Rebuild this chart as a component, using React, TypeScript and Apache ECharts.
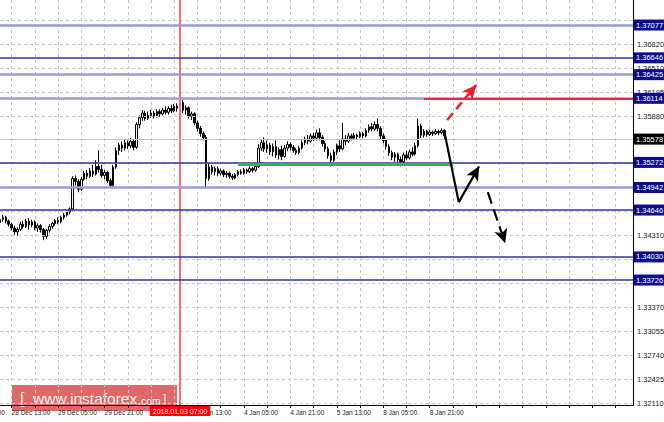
import React, { useEffect, useRef } from "react";
import * as echarts from "echarts";

// ---------- DATA ----------
// hourly candles [open, close, low, high]
const candles: number[][] = [
  [1.3448, 1.3452, 1.3445, 1.3455], [1.3452, 1.3455, 1.3449, 1.3458], [1.3455, 1.345, 1.3447, 1.3457],
  [1.345, 1.3446, 1.3443, 1.3452], [1.3446, 1.3441, 1.3438, 1.3448], [1.3441, 1.3436, 1.3432, 1.3444],
  [1.3436, 1.3439, 1.3431, 1.3442], [1.3439, 1.3446, 1.3437, 1.3449], [1.3446, 1.3443, 1.344, 1.345],
  [1.3443, 1.345, 1.3441, 1.3453], [1.345, 1.3445, 1.3439, 1.3454], [1.3445, 1.3449, 1.3442, 1.3452],
  [1.3449, 1.3441, 1.3438, 1.3451], [1.3441, 1.3444, 1.3436, 1.3447], [1.3444, 1.3439, 1.3435, 1.3446],
  [1.3439, 1.343, 1.3425, 1.3441], [1.343, 1.3438, 1.3427, 1.344], [1.3438, 1.3443, 1.3435, 1.3446],
  [1.3443, 1.3447, 1.344, 1.3449], [1.3447, 1.3451, 1.3444, 1.3453], [1.3451, 1.3449, 1.3446, 1.3455],
  [1.3449, 1.3455, 1.3447, 1.3457], [1.3455, 1.3458, 1.3452, 1.3461], [1.3458, 1.3462, 1.3456, 1.3464],
  [1.3462, 1.3466, 1.3459, 1.3468], [1.3466, 1.3506, 1.3464, 1.3509], [1.3506, 1.3502, 1.3497, 1.351],
  [1.3502, 1.3492, 1.3488, 1.3505], [1.3492, 1.3505, 1.349, 1.3508], [1.3505, 1.3513, 1.3503, 1.3516],
  [1.3513, 1.3509, 1.3505, 1.3517], [1.3509, 1.3516, 1.3507, 1.352], [1.3516, 1.3512, 1.3508, 1.3524],
  [1.3512, 1.3522, 1.351, 1.353], [1.3522, 1.3518, 1.3514, 1.3543], [1.3518, 1.351, 1.3507, 1.3524],
  [1.351, 1.3514, 1.3505, 1.3517], [1.3514, 1.3503, 1.35, 1.3516], [1.3503, 1.3497, 1.3494, 1.3506],
  [1.3497, 1.3521, 1.3495, 1.3524], [1.3521, 1.3543, 1.3519, 1.3547], [1.3543, 1.355, 1.3537, 1.3553],
  [1.355, 1.3546, 1.3541, 1.3555], [1.3546, 1.3553, 1.3543, 1.3557], [1.3553, 1.3549, 1.3545, 1.3556],
  [1.3549, 1.3555, 1.3546, 1.3559], [1.3555, 1.3547, 1.3543, 1.3558], [1.3547, 1.3577, 1.3545, 1.358],
  [1.3577, 1.3586, 1.3572, 1.3589], [1.3586, 1.3592, 1.3582, 1.3596], [1.3592, 1.3585, 1.3582, 1.3595],
  [1.3585, 1.3589, 1.3583, 1.3594], [1.3589, 1.3592, 1.3586, 1.3596], [1.3592, 1.3588, 1.3585, 1.3595],
  [1.3588, 1.3594, 1.3586, 1.3597], [1.3594, 1.3591, 1.3587, 1.3597], [1.3591, 1.3596, 1.3589, 1.3599],
  [1.3596, 1.3593, 1.359, 1.3601], [1.3593, 1.3598, 1.359, 1.3601], [1.3598, 1.3595, 1.3592, 1.3603],
  [1.3595, 1.3601, 1.3593, 1.3604], [1.3601, 1.3598, 1.3594, 1.3605], [1.3598, 1.3606, 1.3596, 1.3612],
  [1.3606, 1.3596, 1.3592, 1.3609], [1.3596, 1.3599, 1.359, 1.3602], [1.3599, 1.3588, 1.3585, 1.3601],
  [1.3588, 1.3591, 1.3583, 1.3594], [1.3591, 1.3579, 1.3576, 1.3593], [1.3579, 1.3572, 1.3568, 1.3582],
  [1.3572, 1.3565, 1.3561, 1.3575], [1.3565, 1.356, 1.3556, 1.3568], [1.356, 1.3506, 1.3494, 1.3563],
  [1.3506, 1.3521, 1.3503, 1.3526], [1.3521, 1.3515, 1.3511, 1.3524], [1.3515, 1.3519, 1.351, 1.3522],
  [1.3519, 1.3513, 1.3509, 1.3522], [1.3513, 1.3516, 1.351, 1.3519], [1.3516, 1.3511, 1.3508, 1.3518],
  [1.3511, 1.3513, 1.3507, 1.3516], [1.3513, 1.3509, 1.3506, 1.3515], [1.3509, 1.3507, 1.3504, 1.3512],
  [1.3507, 1.3511, 1.3505, 1.3513], [1.3511, 1.3515, 1.3509, 1.3517], [1.3515, 1.3513, 1.3511, 1.3518],
  [1.3513, 1.3517, 1.3511, 1.352], [1.3517, 1.3515, 1.3512, 1.3519], [1.3515, 1.3519, 1.3513, 1.3522],
  [1.3519, 1.3517, 1.3514, 1.3521], [1.3517, 1.3522, 1.3515, 1.3524], [1.3522, 1.3546, 1.352, 1.3551],
  [1.3546, 1.3553, 1.3542, 1.3557], [1.3553, 1.3545, 1.3541, 1.356], [1.3545, 1.355, 1.354, 1.3556],
  [1.355, 1.3541, 1.3537, 1.3553], [1.3541, 1.3548, 1.3535, 1.3552], [1.3548, 1.3537, 1.3533, 1.3556],
  [1.3537, 1.3544, 1.3531, 1.3547], [1.3544, 1.3535, 1.353, 1.3549], [1.3535, 1.3546, 1.3533, 1.355],
  [1.3546, 1.3551, 1.3542, 1.3555], [1.3551, 1.3547, 1.3543, 1.3554], [1.3547, 1.3543, 1.354, 1.355],
  [1.3543, 1.354, 1.3537, 1.3546], [1.354, 1.3546, 1.3538, 1.3549], [1.3546, 1.3553, 1.3544, 1.3556],
  [1.3553, 1.3558, 1.355, 1.3561], [1.3558, 1.3555, 1.3551, 1.3563], [1.3555, 1.3562, 1.3553, 1.3565],
  [1.3562, 1.3559, 1.3555, 1.3566], [1.3559, 1.3566, 1.3556, 1.357], [1.3566, 1.356, 1.3556, 1.3572],
  [1.356, 1.3552, 1.3548, 1.3563], [1.3552, 1.3545, 1.3541, 1.3555], [1.3545, 1.3536, 1.3532, 1.3548],
  [1.3536, 1.353, 1.3522, 1.354], [1.353, 1.3541, 1.3528, 1.3544], [1.3541, 1.3549, 1.3537, 1.3552],
  [1.3549, 1.3545, 1.3541, 1.3556], [1.3545, 1.3558, 1.3543, 1.3579], [1.3558, 1.3555, 1.355, 1.3563],
  [1.3555, 1.3562, 1.3553, 1.3566], [1.3562, 1.3559, 1.3556, 1.3565], [1.3559, 1.3563, 1.3557, 1.3566],
  [1.3563, 1.3561, 1.3558, 1.3565], [1.3561, 1.3565, 1.3559, 1.3568], [1.3565, 1.3562, 1.3559, 1.3567],
  [1.3562, 1.3569, 1.356, 1.3572], [1.3569, 1.3574, 1.3566, 1.3577], [1.3574, 1.3571, 1.3568, 1.3579],
  [1.3571, 1.3577, 1.3569, 1.3581], [1.3577, 1.3572, 1.3568, 1.3585], [1.3572, 1.3562, 1.3558, 1.3575],
  [1.3562, 1.3556, 1.3552, 1.3565], [1.3556, 1.3548, 1.3544, 1.3559], [1.3548, 1.354, 1.3536, 1.3551],
  [1.354, 1.3534, 1.353, 1.3543], [1.3534, 1.3538, 1.3528, 1.3541], [1.3538, 1.3531, 1.3527, 1.354],
  [1.3531, 1.3528, 1.3522, 1.3535], [1.3528, 1.3537, 1.3524, 1.354], [1.3537, 1.3533, 1.353, 1.3542],
  [1.3533, 1.3541, 1.3531, 1.3544], [1.3541, 1.3538, 1.3535, 1.3547], [1.3538, 1.3549, 1.3536, 1.3553],
  [1.3549, 1.3575, 1.3547, 1.3585], [1.3575, 1.3563, 1.3559, 1.3578], [1.3563, 1.3568, 1.356, 1.3571],
  [1.3568, 1.3564, 1.3561, 1.357], [1.3564, 1.3567, 1.3562, 1.357], [1.3567, 1.3565, 1.3562, 1.3569],
  [1.3565, 1.3568, 1.3563, 1.3571], [1.3568, 1.3566, 1.3563, 1.357], [1.3566, 1.3569, 1.3564, 1.3572],
  [1.3569, 1.3562, 1.3558, 1.3571],
];

const categoryCount = 219; // bars incl. empty right-hand shift
const xTickIndex = [4, 20, 36, 68, 84, 100, 116, 132, 148];
const xTickLabels = [
  "28 Dec 13:00", "29 Dec 05:00", "29 Dec 21:00", "3 Jan 13:00",
  "4 Jan 05:00", "4 Jan 21:00", "5 Jan 13:00", "8 Jan 05:00", "8 Jan 21:00",
];
const cutTickLabel = "27 Dec 21:00";

// price grid levels; labels of those hidden behind level boxes are not shown
const priceTicks = [
  "1.32110", "1.32425", "1.32740", "1.33055", "1.33370", "1.33685", "1.34000", "1.34310", "1.34625",
  "1.34940", "1.35255", "1.35570", "1.35880", "1.36195", "1.36510", "1.36820", "1.37135",
];
const hiddenTickLabels = ["1.33685", "1.34000", "1.34625", "1.34940", "1.35255", "1.35570", "1.37135"];

const levelValues = [1.37077, 1.36646, 1.36425, 1.36114, 1.35272, 1.34942, 1.34646, 1.3403, 1.33726];
const levelKinds = ["light", "dark", "light", "light", "dark", "light", "dark", "dark", "dark"];
const currentPrice = 1.35578;

const markerIndex = 62;
const markerLabel = "2018.01.03 07:00";

const supportSegment = [[82, 1.3525], [156, 1.3525]];
const resistanceSegment = [[146, 1.36114], [218, 1.36114]];
const breakoutArrow = [[154, 1.3583], [164, 1.3629]];
const declinePath = [[153, 1.3568], [158, 1.3475], [165, 1.3522]];
const continuationArrow = [[168, 1.3488], [174, 1.3421]];

const yMin = 1.32084;
const yMax = 1.37406;

const FONT = "Liberation Sans, Arial, sans-serif";

export default function App() {
  const ref = useRef<HTMLDivElement>(null);

  useEffect(() => {
    if (!ref.current) return;
    const chart = echarts.init(ref.current, undefined, { renderer: "svg" });
    const categories = Array.from({ length: categoryCount }, (_, i) => String(i));

    const option: any = {
      animation: false,
      backgroundColor: "#ffffff",
      textStyle: { fontFamily: FONT },
      grid: { left: 0, right: 31, top: 0, bottom: 17, containLabel: false },
      xAxis: {
        type: "category",
        data: categories,
        boundaryGap: false,
        axisLine: { show: true, lineStyle: { color: "#000", width: 1 } },
        axisTick: {
          show: true,
          length: 3,
          interval: (i: number) => (i - 4) % 8 === 0,
          lineStyle: { color: "#000" },
        },
        axisLabel: {
          show: true,
          interval: (i: number) => xTickIndex.indexOf(i) >= 0,
          formatter: (_v: string, i: number) => {
            const k = xTickIndex.indexOf(i);
            return k >= 0 ? xTickLabels[k] : "";
          },
          align: "left",
          margin: 4,
          fontSize: 6.5,
          color: "#222",
          fontFamily: FONT,
        },
        splitLine: {
          show: true,
          interval: (i: number) => (i - 4) % 8 === 0,
          lineStyle: { color: "#c8c8c8", type: [3, 3], width: 1 },
        },
      },
      yAxis: {
        type: "value",
        position: "right",
        min: yMin,
        max: yMax,
        axisLine: { show: true, lineStyle: { color: "#000", width: 1 } },
        axisTick: { show: false },
        axisLabel: { show: false },
        splitLine: { show: false },
      },
      graphic: [
        {
          type: "text",
          x: -33.8,
          y: 408.5,
          silent: true,
          style: { text: cutTickLabel, fill: "#222", font: `6.5px ${FONT}` },
        },
        {
          type: "group",
          x: 12,
          y: 385,
          z: 100,
          silent: true,
          children: [
            { type: "rect", shape: { x: 0, y: 0, width: 165, height: 26 }, style: { fill: "rgba(214,72,72,0.82)" } },
            { type: "text", x: 8, y: 13, style: { text: "[", fill: "rgba(255,255,255,0.92)", font: `16px ${FONT}`, verticalAlign: "middle" } },
            { type: "text", x: 21, y: 13, style: { text: "www.instaforex", fill: "rgba(255,255,255,0.92)", font: `15.5px ${FONT}`, verticalAlign: "middle" } },
            { type: "text", x: 126, y: 15.5, style: { text: ".com", fill: "rgba(255,255,255,0.92)", font: `10.5px ${FONT}`, verticalAlign: "middle" } },
            { type: "text", x: 151, y: 14, style: { text: "]", fill: "rgba(255,255,255,0.92)", font: `12px ${FONT}`, verticalAlign: "middle" } },
          ],
        },
      ],
      series: [
        {
          name: "grid",
          type: "line",
          data: [],
          z: 1,
          silent: true,
          markLine: {
            silent: true,
            symbol: "none",
            precision: 5,
            animation: false,
            data: priceTicks.map((t) => ({
              yAxis: parseFloat(t),
              name: t,
              lineStyle: { color: "#c8c8c8", type: [3, 3], width: 1 },
              label: {
                show: hiddenTickLabels.indexOf(t) < 0,
                position: "end",
                formatter: "{b}",
                color: "#222",
                fontSize: 7.5,
                distance: 4,
                fontFamily: FONT,
              },
            })),
          },
        },
        {
          name: "levels",
          type: "line",
          data: [],
          z: 2,
          silent: true,
          markLine: {
            silent: true,
            symbol: "none",
            precision: 5,
            animation: false,
            data: [
              {
                xAxis: markerIndex,
                name: markerLabel,
                lineStyle: { color: "#ff6a6a", width: 2, type: "solid" },
                label: {
                  show: true,
                  position: "start",
                  formatter: "{b}",
                  color: "#fff",
                  backgroundColor: "#ff0000",
                  padding: [2, 3, 1, 3],
                  fontSize: 7,
                  distance: 1,
                  fontFamily: FONT,
                },
              },
              {
                yAxis: currentPrice,
                name: currentPrice.toFixed(5),
                lineStyle: { color: "#c4c4c4", width: 1, type: "solid" },
                label: {
                  show: true, position: "end", formatter: "{b}", color: "#fff", backgroundColor: "#000",
                  padding: [2, 2, 1, 2], fontSize: 7.5, distance: 1, fontFamily: FONT,
                },
              },
              ...levelValues.map((v, i) => ({
                yAxis: v,
                name: v.toFixed(5),
                lineStyle:
                  levelKinds[i] === "light"
                    ? { color: "#9c9cd0", width: 2.5, type: "solid" }
                    : { color: "#33339e", width: 1.5, type: "solid" },
                label: {
                  show: true, position: "end", formatter: "{b}", color: "#fff", backgroundColor: "#0c0c8a",
                  padding: [2, 2, 1, 2], fontSize: 7.5, distance: 1, fontFamily: FONT,
                },
              })),
            ],
          },
        },
        {
          name: "EURUSD",
          type: "candlestick",
          data: candles,
          barWidth: 2,
          z: 3,
          itemStyle: {
            color: "#ffffff",
            color0: "#000000",
            borderColor: "#000000",
            borderColor0: "#000000",
            borderWidth: 1,
          },
        },
        {
          name: "lines",
          type: "line",
          data: [],
          z: 4,
          silent: true,
          markLine: {
            silent: true,
            symbol: "none",
            precision: 5,
            animation: false,
            label: { show: false },
            data: [
              [
                { coord: supportSegment[0], lineStyle: { color: "#2fb84a", width: 3, type: "solid" } },
                { coord: supportSegment[1] },
              ],
              [
                { coord: resistanceSegment[0], lineStyle: { color: "#e8283a", width: 2, type: "solid" } },
                { coord: resistanceSegment[1] },
              ],
              [
                { coord: declinePath[0], lineStyle: { color: "#000", width: 2.2, type: "solid" } },
                { coord: declinePath[1] },
              ],
            ],
          },
        },
        {
          name: "arrows",
          type: "line",
          data: [],
          z: 5,
          silent: true,
          markLine: {
            silent: true,
            symbol: ["none", "arrow"],
            symbolSize: [10, 14],
            precision: 5,
            animation: false,
            label: { show: false },
            data: [
              [
                { coord: breakoutArrow[0], lineStyle: { color: "#e8202a", width: 2.5, type: [9, 5] }, itemStyle: { color: "#e8202a" } },
                { coord: breakoutArrow[1] },
              ],
              [
                { coord: declinePath[1], lineStyle: { color: "#000", width: 2.2, type: "solid" }, itemStyle: { color: "#000" } },
                { coord: declinePath[2] },
              ],
              [
                { coord: continuationArrow[0], lineStyle: { color: "#000", width: 2.2, type: [12, 6] }, itemStyle: { color: "#000" } },
                { coord: continuationArrow[1] },
              ],
            ],
          },
        },
      ],
    };
    chart.setOption(option);
    return () => chart.dispose();
  }, []);

  return (
    <div
      ref={ref}
      style={{ position: "fixed", left: 0, top: 0, width: 664, height: 422, background: "#fff" }}
    />
  );
}
